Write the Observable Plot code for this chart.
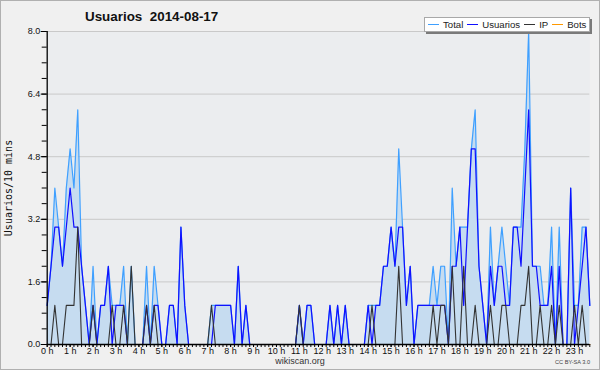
<!DOCTYPE html>
<html><head><meta charset="utf-8">
<script src="https://cdn.jsdelivr.net/npm/d3@7"></script>
<script src="https://cdn.jsdelivr.net/npm/@observablehq/plot@0.6"></script>
<style>
html,body{margin:0;padding:0;background:#f0f0f0;}
#wrap{position:relative;width:600px;height:370px;background:#f0f0f0;overflow:hidden;font-family:"Liberation Sans",Arial,sans-serif;}
#chart{position:absolute;left:0;top:0;}
#border{position:absolute;left:0;top:0;width:600px;height:370px;box-sizing:border-box;border:1px solid #b0b0b0;pointer-events:none;}
#title{position:absolute;left:85px;top:10px;font:bold 13.4px/13px "Liberation Sans",Arial,sans-serif;color:#111;white-space:pre;}
#ylabel{position:absolute;left:9px;top:188px;transform:translate(-50%,-50%) rotate(-90deg);font:10px/10px "DejaVu Sans Mono",monospace;color:#111;white-space:nowrap;}
#legend{position:absolute;left:424px;top:17px;height:15px;width:166px;box-sizing:border-box;background:#fff;border:1px solid #a8a8a8;box-shadow:2px 2px 0 #7a7a7a;display:flex;align-items:center;padding-left:3px;font:9.6px/10px "Liberation Sans",Arial,sans-serif;color:#222;}
#legend .sw{display:inline-block;width:11px;height:0;border-top:1.3px solid;margin-right:4px;}
#legend .it{display:flex;align-items:center;margin-right:4px;}
#foot{position:absolute;left:0;width:600px;top:357px;text-align:center;font:9px/9px "Liberation Sans",Arial,sans-serif;color:#333;}
#cc{position:absolute;right:10px;top:359px;font:5.6px/6px "Liberation Sans",Arial,sans-serif;color:#444;}
</style></head>
<body>
<div id="wrap">
  <div id="chart"></div>
  <div id="title">Usuarios  2014-08-17</div>
  <div id="ylabel">Usuarios/10 mins</div>
  <div id="legend"></div>
  <div id="foot">wikiscan.org</div>
  <div id="cc">CC BY-SA 3.0</div>
  <div id="border"></div>
</div>
<script>
// 10-minute slots, 00:00 .. 23:40
const total = [
1,2,4,3,2,4,5,4,6,2,1,0,2,0,1,1,2,1,1,1,2,0,2,0,
0,0,2,0,2,1,0,0,1,1,0,3,1,0,0,0,0,0,0,1,1,1,1,1,
1,0,2,0,1,0,0,0,0,0,0,0,0,0,0,0,0,0,1,0,1,1,0,0,
0,0,1,0,1,0,1,0,0,0,0,0,1,1,1,1,2,2,3,2,5,3,1,2,
0,1,1,1,1,2,1,2,2,0,4,2,3,3,3,5,6,2,1,0,3,1,2,3,
2,1,3,3,3,5,8,2,2,2,1,1,3,0,3,0,0,4,1,1,3,3,1];
const usuarios = [
1,2,3,3,2,3,4,3,3,2,1,0,1,0,1,1,2,0,1,1,1,0,0,0,
0,0,1,0,1,1,0,0,1,1,0,3,1,0,0,0,0,0,0,0,1,1,1,1,
1,0,2,0,1,0,0,0,0,0,0,0,0,0,0,0,0,0,1,0,1,1,0,0,
0,0,1,0,1,0,1,0,0,0,0,0,1,0,1,1,2,2,3,2,3,3,1,2,
0,1,1,1,1,1,1,1,1,0,2,2,3,1,3,5,5,2,1,0,2,1,2,2,
1,1,3,3,2,4,6,2,2,1,1,1,2,0,2,0,0,4,0,1,2,3,1];
const ip = [
0,0,1,0,0,1,1,1,3,0,0,0,1,0,0,0,0,1,0,0,1,0,2,0,
0,0,1,0,1,0,0,0,0,0,0,0,0,0,0,0,0,0,0,1,0,0,0,0,
0,0,0,0,0,0,0,0,0,0,0,0,0,0,0,0,0,0,1,0,0,0,0,0,
0,0,0,0,0,0,0,0,0,0,0,0,0,1,0,0,0,0,0,0,2,0,0,0,
0,0,0,0,0,1,0,1,1,0,2,0,0,2,0,0,1,0,0,0,1,0,0,1,
1,0,0,0,1,1,2,0,0,1,0,0,1,0,1,0,0,0,1,0,1,0,0];
const bots = [
0,0,0,0,0,0,0,0,0,0,0,0,0,0,0,0,0,0,0,0,0,0,0,0,
0,0,0,0,0,0,0,0,0,0,0,0,0,0,0,0,0,0,0,0,0,0,0,0,
0,0,0,0,0,0,0,0,0,0,0,0,0,0,0,0,0,0,0,0,0,0,0,0,
0,0,0,0,0,0,0,0,0,0,0,0,0,0,0,0,0,0,0,0,0,0,0,0,
0,0,0,0,0,0,0,0,0,0,0,0,0,0,0,0,0,0,0,0,0,0,0,0,
0,0,0,0,0,0,0,0,0,0,0,0,0,0,0,0,0,0,0,0,0,0,0];
const hourLabels = ["0 h","1 h","2 h","3 h","4 h","5 h","6 h","7 h","8 h","9 h","10 h","11 h",
  "12 h","13 h","14 h","15 h","16 h","17 h","18 h","19 h","20 h","21 h","22 h","23 h"];
const yTickLabels = ["0.0","1.6","3.2","4.8","6.4","8.0"];
const seriesNames = ["Total","Usuarios","IP","Bots"];
const seriesColors = ["#3fa0ff","#1010ff","#333333","#ff9900"];

const slotsPerHour = 6;
const data = usuarios.map((u, i) => ({slot: i, total: total[i], usuarios: u, ip: ip[i], bots: bots[i]}));
const yMajor = yTickLabels.map(Number);
const yMinor = d3.range(0, 8.0001, 0.4);
const xMajor = hourLabels.map((_, h) => h * slotsPerHour);
const xMinor = data.map(d => d.slot);

const chart = Plot.plot({
  width: 600, height: 370,
  marginLeft: 46.7, marginRight: 10.7, marginTop: 31, marginBottom: 26,
  style: {background: "transparent", fontFamily: "'Liberation Sans', Arial, sans-serif", fontSize: "9px", color: "#111", overflow: "visible"},
  x: {domain: [0, total.length - 1], axis: null, label: null},
  y: {domain: [0, 8], axis: null, label: null},
  marks: [
    Plot.frame({fill: "#ebedef", stroke: null}),
    Plot.ruleY(yMajor.slice(1), {stroke: "#c9c9c9", strokeWidth: 1}),
    Plot.areaY(data, {x: "slot", y: "total", fill: "#c6dcf0", curve: "linear"}),
    Plot.lineY(data, {x: "slot", y: "total", stroke: seriesColors[0], strokeWidth: 1.2}),
    Plot.lineY(data, {x: "slot", y: "usuarios", stroke: seriesColors[1], strokeWidth: 1.2}),
    Plot.lineY(data, {x: "slot", y: "ip", stroke: seriesColors[2], strokeWidth: 1.1}),
    Plot.lineY(data, {x: "slot", y: "bots", stroke: seriesColors[3], strokeWidth: 1.1}),
    Plot.axisY({ticks: yMinor, tickSize: 5, tickFormat: () => "", stroke: "#000", label: null}),
    Plot.axisY({ticks: yMajor, tickSize: 6, tickPadding: 1, tickFormat: (d, i) => yTickLabels[i], stroke: "#000", fill: "#111", label: null}),
    Plot.axisX({ticks: xMinor, tickSize: 3, tickFormat: () => "", stroke: "#000", label: null}),
    Plot.axisX({ticks: xMajor, tickSize: 3, tickPadding: 0, tickFormat: (d, i) => hourLabels[i], stroke: "#000", fill: "#111", label: null}),
    Plot.ruleX([0], {stroke: "#000", strokeWidth: 1.3}),
    Plot.ruleY([0], {stroke: "#000", strokeWidth: 1.3})
  ]
});
document.getElementById("chart").appendChild(chart);

const legend = document.getElementById("legend");
seriesNames.forEach((name, k) => {
  const it = document.createElement("span");
  it.className = "it";
  const sw = document.createElement("span");
  sw.className = "sw";
  sw.style.borderTopColor = seriesColors[k];
  it.appendChild(sw);
  it.appendChild(document.createTextNode(name));
  legend.appendChild(it);
});
</script>
</body></html>
